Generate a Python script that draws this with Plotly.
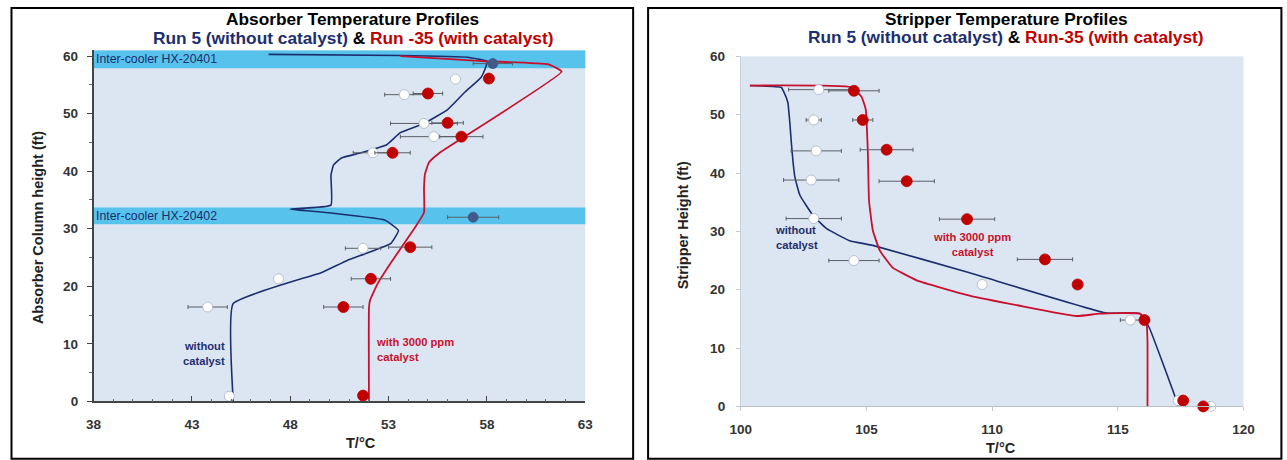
import plotly.graph_objects as go

# ---------------- data: absorber (left) ----------------
abs_blue_T = [46.9, 53.6, 57.0, 58.0, 57.9, 57.7, 56.9, 56.0, 54.8, 53.6, 52.9, 51.6, 50.6, 50.2, 50.07, 50.07, 48.0, 49.3, 52.8, 53.5, 53.1, 50.9, 49.6, 45.1, 45.1]
abs_blue_h = [60.3, 60.1, 59.8, 59.1, 57.7, 56.3, 53.8, 50.7, 48.3, 46.7, 44.6, 43.2, 42.3, 41.1, 39.3, 34.1, 33.4, 33.0, 31.5, 29.7, 27.4, 24.5, 22.4, 17.0, 0.0]
abs_red_T = [53.6, 58.0, 61.1, 61.8, 55.6, 55.05, 54.85, 54.8, 54.8, 54.3, 53.1, 52.45, 52.05, 52.0, 52.0]
abs_red_h = [60.0, 59.1, 58.6, 57.3, 43.2, 41.5, 39.5, 37.0, 32.8, 30.0, 24.0, 20.5, 17.5, 16.0, 0.0]

abs_wo_T = [56.4, 53.8, 54.8, 55.3, 52.2, 51.7, 47.4, 43.8, 44.9]
abs_wo_h = [56.0, 53.3, 48.3, 46.0, 43.2, 26.6, 21.3, 16.4, 0.9]
abs_wo_err = [0, 1.0, 1.7, 1.7, 1.0, 0.9, 0, 1.0, 0]

abs_w_T = [58.1, 55.0, 56.0, 56.7, 53.2, 54.1, 52.1, 50.7, 51.7]
abs_w_h = [56.1, 53.5, 48.4, 46.0, 43.2, 26.8, 21.3, 16.4, 1.0]
abs_w_err = [0, 0.75, 0.8, 1.1, 0.9, 1.1, 1.0, 1.0, 0]

abs_band_T = [58.3, 57.3]
abs_band_h = [58.7, 32.0]
abs_band_err = [1.0, 1.3]

band_lo = [30.8, 57.9]
band_hi = [33.7, 61.0]
band_labels = ["Inter-cooler HX-20402", "Inter-cooler HX-20401"]

# ---------------- data: stripper (right) ----------------
str_blue_T = [100.36, 101.6, 101.7, 101.87, 101.95, 102.0, 102.07, 102.15, 102.35, 102.86, 103.4, 104.33, 105.25, 109.1, 114.55, 115.9, 116.26, 117.34, 117.4]
str_blue_h = [55.0, 54.7, 54.0, 52.1, 48.6, 45.7, 42.2, 39.3, 36.2, 32.8, 30.5, 28.4, 27.6, 22.9, 16.0, 15.9, 13.4, 0.9, 0.0]
str_red_T = [100.36, 104.4, 104.8, 104.97, 105.05, 105.1, 105.25, 105.53, 106.04, 107.0, 109.1, 113.36, 114.27, 115.87, 116.14, 116.18, 116.18]
str_red_h = [55.0, 54.7, 53.1, 50.9, 44.0, 35.3, 30.2, 26.7, 23.8, 21.6, 19.0, 15.5, 15.9, 15.9, 14.3, 11.2, 0.0]

str_wo_T = [103.1, 102.9, 103.0, 102.8, 102.9, 104.5, 109.6, 115.5, 117.4, 118.7]
str_wo_h = [54.3, 49.1, 43.8, 38.8, 32.2, 25.0, 20.9, 14.8, 1.0, 0.0]
str_wo_err = [1.2, 0.3, 1.0, 1.1, 1.1, 1.0, 0, 0.4, 0, 0]

str_w_T = [104.5, 104.85, 105.8, 106.6, 109.0, 112.1, 113.4, 116.06, 117.6, 118.4]
str_w_h = [54.1, 49.1, 44.0, 38.6, 32.1, 25.2, 20.9, 14.8, 1.0, 0.0]
str_w_err = [1.0, 0.4, 1.05, 1.1, 1.1, 1.1, 0, 0, 0, 0]

# ---------------- layout mapping ----------------
# The photographed page keeps an 8px body margin and is captured slightly
# scaled; target pixel positions are mapped back into figure pixels.
OFF = 8
SX, TX = 0.9857, 1.3
SY, TY = 0.9625, 0.2
W, H = 1298, 470
FONT = "Liberation Sans, Arial, sans-serif"
NAVY = "#1c2e6e"
RED = "#c8102e"
BG = "#dce6f2"
BAND = "#57c2ec"

def px(x):
    return ((x - TX) / SX - OFF) / W

def py(y):
    return 1 - ((y - TY) / SY - OFF) / H

def clamp(v):
    return min(max(v, 0.5 / W), 1 - 0.5 / W)

fig = go.Figure()

def add_lines(xa, ya, bT, bh, rT, rh):
    fig.add_trace(go.Scatter(x=bT, y=bh, mode="lines", xaxis=xa, yaxis=ya,
                             line=dict(color=NAVY, width=1.6, shape="spline", smoothing=0.35),
                             showlegend=False, hoverinfo="skip"))
    fig.add_trace(go.Scatter(x=rT, y=rh, mode="lines", xaxis=xa, yaxis=ya,
                             line=dict(color=RED, width=1.8, shape="spline", smoothing=0.35),
                             showlegend=False, hoverinfo="skip"))

def add_markers(xa, ya, T, h, err, fill, edge, size):
    fig.add_trace(go.Scatter(x=T, y=h, mode="markers", xaxis=xa, yaxis=ya,
                             error_x=dict(type="data", array=err, visible=True,
                                          color="#5a5f66", thickness=1, width=2),
                             marker=dict(size=size, color=fill, line=dict(color=edge, width=0.8)),
                             cliponaxis=False, showlegend=False))

add_lines("x", "y", abs_blue_T, abs_blue_h, abs_red_T, abs_red_h)
add_markers("x", "y", abs_wo_T, abs_wo_h, abs_wo_err, "white", "#a9b3c0", 10)
add_markers("x", "y", abs_w_T, abs_w_h, abs_w_err, "#c00000", "#c00000", 11)
add_markers("x", "y", abs_band_T, abs_band_h, abs_band_err, "#3d5a8a", "#3d5a8a", 10)

add_lines("x2", "y2", str_blue_T, str_blue_h, str_red_T, str_red_h)
add_markers("x2", "y2", str_wo_T, str_wo_h, str_wo_err, "white", "#a9b3c0", 10)
add_markers("x2", "y2", str_w_T, str_w_h, str_w_err, "#c00000", "#c00000", 11)

shapes = []
for lo, hi in zip(band_lo, band_hi):
    shapes.append(dict(type="rect", xref="x domain", yref="y", x0=0, x1=1, y0=lo, y1=hi,
                       fillcolor=BAND, line=dict(width=0), layer="below"))
# panel borders
top = min(py(6), 1 - 1.0 / H)
shapes.append(dict(type="rect", xref="paper", yref="paper", x0=clamp(px(5)), x1=px(633), y0=py(457), y1=top,
                   line=dict(color="black", width=2)))
shapes.append(dict(type="rect", xref="paper", yref="paper", x0=px(648), x1=px(1283), y0=py(457), y1=top,
                   line=dict(color="black", width=2)))

tickfont = dict(family=FONT, size=13.5, color="#333333", weight="bold")

annotations = []
for lo, hi, lab in zip(band_lo, band_hi, band_labels):
    annotations.append(dict(xref="x", yref="y", x=38.05, y=(lo + hi) / 2, text=lab, showarrow=False,
                            xanchor="left", yanchor="middle", borderpad=0,
                            font=dict(family=FONT, size=12.3, color=NAVY)))

def title_block(cx, y1, y2, t1, blue, red):
    annotations.append(dict(xref="paper", yref="paper", x=px(cx), y=py(y1), text="<b>" + t1 + "</b>",
                            showarrow=False, xanchor="center", yanchor="middle", borderpad=0,
                            font=dict(family=FONT, size=17.3, color="black")))
    annotations.append(dict(xref="paper", yref="paper", x=px(cx), y=py(y2),
                            text="<b><span style='color:%s'>%s</span> &amp; <span style='color:%s'>%s</span></b>" % (NAVY, blue, "#c00000", red),
                            showarrow=False, xanchor="center", yanchor="middle", borderpad=0,
                            font=dict(family=FONT, size=17.3, color="black")))

title_block(352, 20, 39, "Absorber Temperature Profiles", "Run 5 (without catalyst)", "Run -35 (with catalyst)")
title_block(1007, 20, 38, "Stripper Temperature Profiles", "Run 5 (without catalyst)", "Run-35 (with catalyst)")

axis_title_font = dict(family=FONT, size=14.5, color="#222222")
annotations += [
    dict(xref="paper", yref="paper", x=px(37), y=py(227), text="<b>Absorber Column height (ft)</b>",
         textangle=-90, showarrow=False, xanchor="center", yanchor="middle", font=axis_title_font),
    dict(xref="paper", yref="paper", x=px(360), y=py(441), text="<b>T/°C</b>", showarrow=False,
         xanchor="center", yanchor="middle", font=axis_title_font),
    dict(xref="paper", yref="paper", x=px(683), y=py(225), text="<b>Stripper Height (ft)</b>",
         textangle=-90, showarrow=False, xanchor="center", yanchor="middle", font=axis_title_font),
    dict(xref="paper", yref="paper", x=px(1002), y=py(446), text="<b>T/°C</b>", showarrow=False,
         xanchor="center", yanchor="middle", font=axis_title_font),
    dict(xref="x", yref="y", x=44.8, y=8.4, text="<b>without<br>catalyst</b>", showarrow=False,
         xanchor="right", yanchor="middle", align="right", font=dict(family=FONT, size=11.2, color=NAVY)),
    dict(xref="x", yref="y", x=52.25, y=9.1, text="<b>with 3000 ppm<br>catalyst</b>", showarrow=False,
         xanchor="left", yanchor="middle", align="left", font=dict(family=FONT, size=11.2, color=RED)),
    dict(xref="x2", yref="y2", x=101.27, y=29.0, text="<b>without<br>catalyst</b>", showarrow=False,
         xanchor="left", yanchor="middle", align="left", font=dict(family=FONT, size=11.2, color=NAVY)),
    dict(xref="x2", yref="y2", x=109.2, y=27.7, text="<b>with 3000 ppm<br>catalyst</b>", showarrow=False,
         xanchor="center", yanchor="middle", align="center", font=dict(family=FONT, size=11.2, color=RED)),
]

fig.update_layout(
    width=W, height=H, autosize=False,
    margin=dict(l=0, r=0, t=0, b=0, pad=0),
    paper_bgcolor="white", plot_bgcolor=BG,
    showlegend=False,
    shapes=shapes, annotations=annotations,
    xaxis=dict(domain=[px(92), px(585)], range=[38, 63], tickvals=[38, 43, 48, 53, 58, 63],
               showgrid=False, zeroline=False, showline=True, linecolor="#444444", linewidth=1.5,
               ticks="inside", ticklen=6, tickcolor="#444444", tickfont=tickfont, ticklabelstandoff=10,
               minor=dict(dtick=1, ticks="inside", ticklen=3, tickcolor="#666666"),
               anchor="y"),
    yaxis=dict(domain=[py(400), py(51)], range=[0, 61], tickvals=[0, 10, 20, 30, 40, 50, 60],
               showgrid=False, zeroline=False, showline=True, linecolor="#444444", linewidth=1.5,
               ticks="outside", ticklen=5, tickcolor="#444444", tickfont=tickfont, ticklabelstandoff=6,
               minor=dict(dtick=5, ticks="outside", ticklen=3, tickcolor="#666666"),
               anchor="x"),
    xaxis2=dict(domain=[px(741), px(1245)], range=[100, 120], tickvals=[100, 105, 110, 115, 120],
                showgrid=False, zeroline=False, showline=True, linecolor="#b8c0c8", linewidth=1,
                ticks="outside", ticklen=4, tickcolor="#c0c8d0", tickfont=tickfont, ticklabelstandoff=6,
                anchor="y2"),
    yaxis2=dict(domain=[py(405), py(57)], range=[0, 60], tickvals=[0, 10, 20, 30, 40, 50, 60],
                showgrid=False, zeroline=False, showline=True, linecolor="#c8d0d8", linewidth=1,
                ticks="outside", ticklen=4, tickcolor="#c0c8d0", tickfont=tickfont, ticklabelstandoff=8,
                anchor="x2"),
)

fig.write_html("out.html")
